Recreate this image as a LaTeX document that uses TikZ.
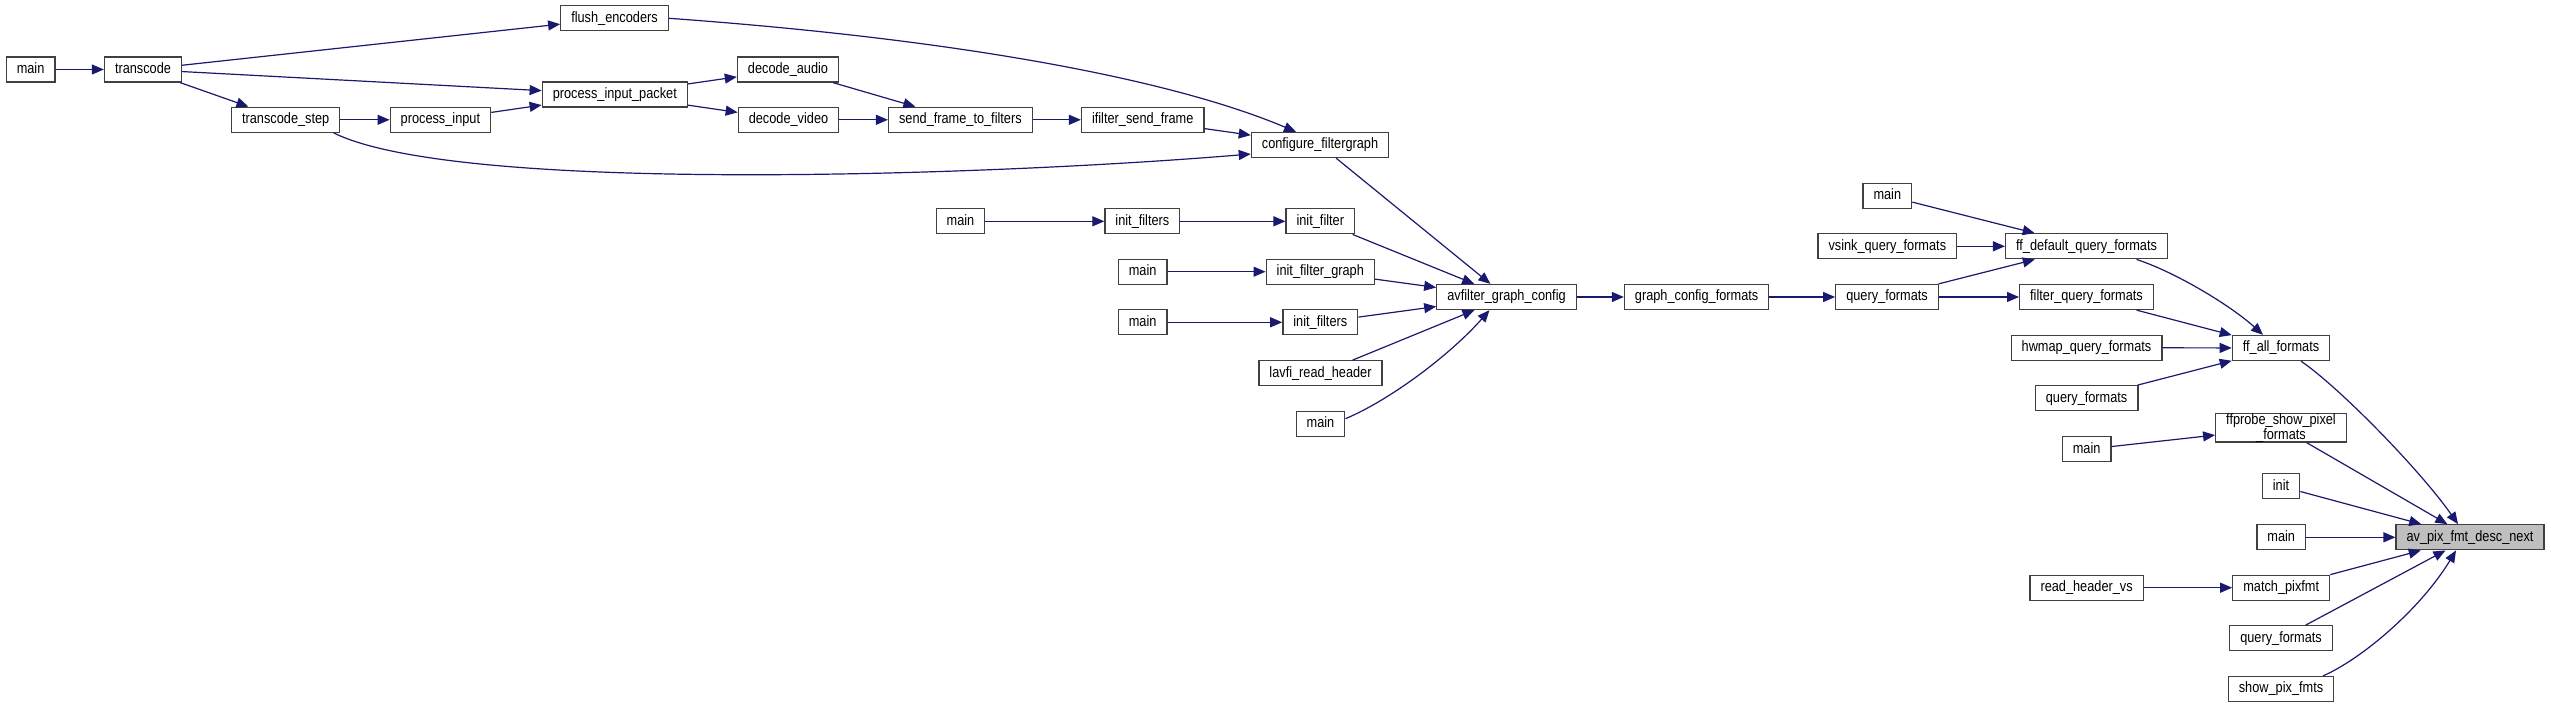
\documentclass[tikz,border=0pt]{standalone}
\usepackage{fontspec}
\setmainfont{Liberation Sans}[FakeStretch=0.85]
\usetikzlibrary{arrows.meta}
\definecolor{biruedge}{RGB}{25,25,112}

\begin{document}
\begin{tikzpicture}[x=1pt, y=-1pt, font=\fontsize{15pt}{14.7pt}\selectfont,
      kotak/.style={draw=black!75, line width=1.3pt, fill=white, align=center, minimum height=25pt, inner xsep=10.5pt, inner ysep=0pt},
      fungsi/.style={kotak, text height=10.8pt, text depth=3pt},
      fokus/.style={fungsi, fill=black!25},
      panah/.style={-{Triangle[length=12pt, width=10pt]}, draw=biruedge, line width=1.2pt}
    ]

    \path[fill=white] (0,0) rectangle (2551,708);
    \useasboundingbox (0,0) rectangle (2551,708);

    % ─── Upper chain (transcode) ─────────────────────────────────
    \node[fungsi] (main)      at (30.6, 69.5)   {main};
    \node[fungsi] (transcode) at (143, 69.5)    {transcode};
    \node[fungsi] (flushenc)  at (614.5, 18.3)  {flush\_encoders};
    \node[fungsi] (procpkt)   at (614.8, 94.5)  {process\_input\_packet};
    \node[fungsi] (tcstep)    at (285.7, 119.8) {transcode\_step};
    \node[fungsi] (procin)    at (440.4, 119.8) {process\_input};
    \node[fungsi] (decaudio)  at (788, 69.5)    {decode\_audio};
    \node[fungsi] (decvideo)  at (788.5, 119.8) {decode\_video};
    \node[fungsi] (sendframe) at (960.4, 119.8) {send\_frame\_to\_filters};
    \node[fungsi] (ifsend)    at (1142.7, 119.8) {ifilter\_send\_frame};
    \node[fungsi] (cfggraph)  at (1320, 145)    {configure\_filtergraph};

    % ─── Callers of avfilter_graph_config ────────────────────────
    \node[fungsi] (mainB)        at (960.5, 221.3)  {main};
    \node[fungsi] (initfiltersA) at (1142.4, 221.3) {init\_filters};
    \node[fungsi] (initfilter)   at (1320.3, 221.3) {init\_filter};
    \node[fungsi] (mainC)        at (1142.6, 271.7) {main};
    \node[fungsi] (initfg)       at (1320.3, 271.7) {init\_filter\_graph};
    \node[fungsi] (mainD)        at (1142.6, 322.3) {main};
    \node[fungsi] (initfiltersB) at (1320.3, 322.3) {init\_filters};
    \node[fungsi] (lavfi)        at (1320.5, 373.3) {lavfi\_read\_header};
    \node[fungsi] (mainE)        at (1320.5, 423.7) {main};
    \node[fungsi] (agconfig)     at (1506.5, 297)   {avfilter\_graph\_config};
    \node[fungsi] (gcformats)    at (1696.6, 297)   {graph\_config\_formats};

    % ─── Query formats ───────────────────────────────────────────
    \node[fungsi] (qfA)      at (1887, 297)     {query\_formats};
    \node[fungsi] (mainF)    at (1887.3, 195.8) {main};
    \node[fungsi] (vsinkqf)  at (1887.3, 246.3) {vsink\_query\_formats};
    \node[fungsi] (ffdefqf)  at (2086.5, 246.3) {ff\_default\_query\_formats};
    \node[fungsi] (filterqf) at (2086.5, 297)   {filter\_query\_formats};
    \node[fungsi] (hwmapqf)  at (2086.5, 347.7) {hwmap\_query\_formats};
    \node[fungsi] (qfB)      at (2086.6, 398.3) {query\_formats};
    \node[fungsi] (ffall)    at (2281, 348)     {ff\_all\_formats};

    % ─── Right column (av_pix_fmt_desc_next) ─────────────────────
    \node[kotak]  (ffprobe)  at (2281, 427.8)   {ffprobe\_show\_pixel\\\_formats};
    \node[fungsi] (mainG)    at (2086.6, 449.3) {main};
    \node[fungsi] (init)     at (2281, 486.3)   {init};
    \node[fungsi] (mainH)    at (2281.2, 537.3) {main};
    \node[fokus]  (avdesc)   at (2470, 537.3)   {av\_pix\_fmt\_desc\_next};
    \node[fungsi] (readvs)   at (2086.6, 587.7) {read\_header\_vs};
    \node[fungsi] (matchpix) at (2281.2, 587.7) {match\_pixfmt};
    \node[fungsi] (qfC)      at (2281, 638.3)   {query\_formats};
    \node[fungsi] (showpix)  at (2281, 689)     {show\_pix\_fmts};

    % ─── Arrows ──────────────────────────────────────────────────
    % transcode chain
    \draw[panah] (main) -- (transcode);
    \draw[panah] (transcode) -- (flushenc);
    \draw[panah] (transcode) -- (procpkt);
    \draw[panah] (transcode) -- (tcstep);
    \draw[panah] (tcstep) -- (procin);
    \draw[panah] (procin) -- (procpkt);
    \draw[panah] (procpkt) -- (decaudio);
    \draw[panah] (procpkt) -- (decvideo);
    \draw[panah] (decaudio) -- (sendframe);
    \draw[panah] (decvideo) -- (sendframe);
    \draw[panah] (sendframe) -- (ifsend);
    \draw[panah] (ifsend) -- (cfggraph);

    % long curves into configure_filtergraph
    \draw[panah] (flushenc.east) .. controls (969,40) and (1176,81) .. ([xshift=-24pt]cfggraph.north);
    \draw[panah] ([xshift=48pt]tcstep.south) .. controls (460,195) and (1000,175) .. ([yshift=-9pt]cfggraph.west);

    % into avfilter_graph_config
    \draw[panah] (cfggraph) -- (agconfig);
    \draw[panah] (mainB) -- (initfiltersA);
    \draw[panah] (initfiltersA) -- (initfilter);
    \draw[panah] (initfilter) -- (agconfig);
    \draw[panah] (mainC) -- (initfg);
    \draw[panah] (initfg) -- (agconfig);
    \draw[panah] (mainD) -- (initfiltersB);
    \draw[panah] (initfiltersB) -- (agconfig);
    \draw[panah] (lavfi) -- (agconfig);
    \draw[panah] ([yshift=5pt]mainE.east) .. controls (1390,400) and (1450,355) .. ([xshift=-17pt]agconfig.south);

    % formats
    \draw[panah] (agconfig) -- (gcformats);
    \draw[panah] (gcformats) -- (qfA);
    \draw[panah] (qfA) -- (ffdefqf);
    \draw[panah] (qfA) -- (filterqf);
    \draw[panah] (mainF) -- (ffdefqf);
    \draw[panah] (vsinkqf) -- (ffdefqf);
    \draw[panah] ([xshift=50pt]ffdefqf.south) .. controls (2175,272) and (2230,305) .. ([xshift=-18pt]ffall.north);
    \draw[panah] (filterqf) -- (ffall);
    \draw[panah] (hwmapqf) -- (ffall);
    \draw[panah] (qfB) -- (ffall);

    % into av_pix_fmt_desc_next
    \draw[panah] ([xshift=20pt]ffall.south) .. controls (2340,388) and (2420,470) .. ([xshift=-12pt]avdesc.north);
    \draw[panah] (mainG) -- (ffprobe);
    \draw[panah] (ffprobe) -- (avdesc);
    \draw[panah] (init) -- (avdesc);
    \draw[panah] (mainH) -- (avdesc);
    \draw[panah] (readvs) -- (matchpix);
    \draw[panah] (matchpix) -- (avdesc);
    \draw[panah] (qfC) -- (avdesc);
    \draw[panah] ([xshift=42pt]showpix.north) .. controls (2360,660) and (2420,610) .. ([xshift=-14pt]avdesc.south);

    \end{tikzpicture}
\end{document}
